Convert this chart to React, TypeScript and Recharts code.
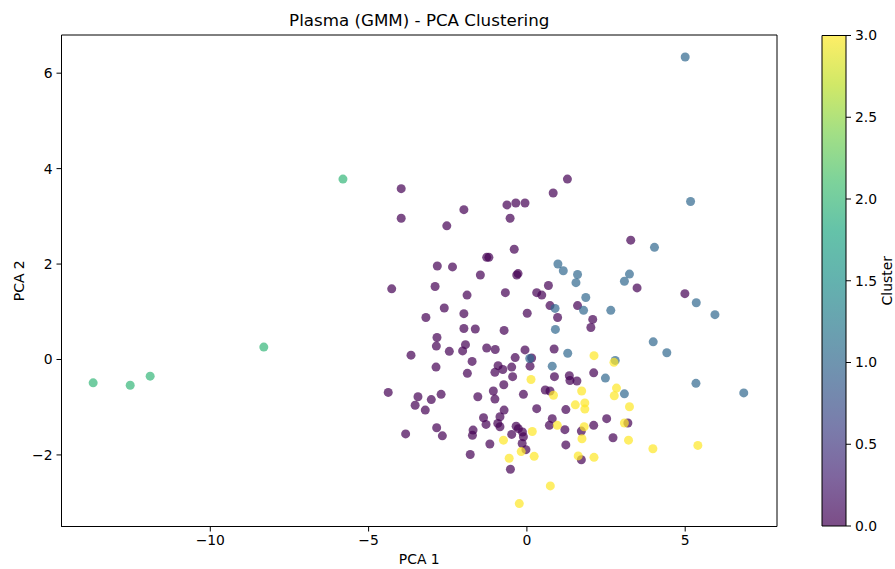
import React from 'react';
import {
  ScatterChart,
  Scatter,
  XAxis,
  YAxis,
  ReferenceArea,
  BarChart,
  Bar,
} from 'recharts';

// ---------------- data ----------------
const xTicks = [-10, -5, 0, 5];
const yTicks = [-2, 0, 2, 4, 6];
const colorbarTicks = [0, 0.5, 1.0, 1.5, 2.0, 2.5, 3.0];
const xDomain = [-14.7, 7.9];
const yDomain = [-3.5, 6.8];
const clusterNames = ['0', '1', '2', '3'];

const cluster0: [number, number][] = [
  [-3.97, 3.58], [-3.97, 2.96], [-1.99, 3.14], [-2.53, 2.8], [-0.63, 3.24], [-0.35, 3.28],
  [-0.06, 3.28], [0.83, 3.49], [-0.53, 2.96], [-0.4, 2.31], [-1.27, 2.14], [-1.2, 2.14],
  [-2.83, 1.96], [-2.35, 1.94], [-1.47, 1.77], [-0.32, 1.77], [-0.28, 1.8], [-4.27, 1.48],
  [-2.9, 1.53], [-1.89, 1.35], [-0.68, 1.4], [0.31, 1.4], [0.47, 1.35], [0.68, 1.55],
  [0.73, 1.13], [-2.61, 1.08], [-3.19, 0.88], [-1.99, 0.96], [0.01, 0.97], [0.97, 0.88],
  [1.28, 3.78], [3.28, 2.5], [3.48, 1.5], [4.99, 1.38], [1.6, 1.13], [2.08, 0.84],
  [2.02, 0.67], [-0.72, 0.61], [-1.63, 0.64], [-1.99, 0.65], [-1.27, 0.24], [-1.0, 0.21],
  [-0.06, 0.2], [0.86, 0.22], [-0.37, 0.04], [0.15, 0.03], [-2.84, 0.46], [-2.86, 0.28],
  [-1.94, 0.31], [-2.03, 0.18], [-2.45, 0.17], [-3.66, 0.09], [-1.73, -0.04], [-2.87, -0.16],
  [-0.91, -0.13], [-0.76, -0.21], [-0.48, -0.16], [0.1, -0.14], [-1.88, -0.29], [-1.01, -0.27],
  [-0.45, -0.36], [0.87, -0.36], [-0.73, -0.53], [0.58, -0.64], [0.73, -0.66], [-4.38, -0.69],
  [-3.44, -0.78], [-2.71, -0.73], [-3.02, -0.84], [-3.53, -0.96], [-3.21, -1.06], [-1.55, -0.78],
  [-1.06, -0.66], [-1.01, -0.83], [-0.11, -0.73], [0.31, -1.03], [-0.72, -1.06], [-0.85, -1.2],
  [-1.37, -1.22], [-1.29, -1.36], [-0.92, -1.34], [-0.85, -1.41], [0.8, -1.24], [0.71, -1.38],
  [-2.85, -1.43], [-2.67, -1.6], [-3.83, -1.56], [-1.7, -1.48], [-1.72, -1.59], [-0.34, -1.4],
  [-0.27, -1.45], [-0.14, -1.52], [-0.11, -1.62], [-0.48, -1.57], [-1.17, -1.77], [-0.15, -1.76],
  [-0.03, -1.89], [-1.79, -1.99], [-0.52, -2.3], [1.34, -0.34], [1.36, -0.44], [1.58, -0.45],
  [2.11, -0.28], [1.23, -1.05], [2.52, -1.24], [3.19, -1.33], [2.11, -1.38], [1.2, -1.47],
  [1.72, -1.5], [2.72, -1.64], [1.23, -1.79], [1.72, -2.1],
];

const cluster1: [number, number][] = [
  [5.0, 6.34], [5.17, 3.31], [4.03, 2.35], [0.98, 2.0], [1.15, 1.86], [1.6, 1.78],
  [1.55, 1.61], [3.24, 1.79], [3.08, 1.64], [5.35, 1.19], [5.94, 0.94], [1.86, 1.3],
  [1.79, 1.03], [2.65, 1.03], [0.89, 1.07], [0.9, 0.63], [1.29, 0.13], [0.09, 0.02],
  [0.8, -0.14], [3.99, 0.37], [4.42, 0.14], [2.79, -0.02], [2.48, -0.39], [5.34, -0.5],
  [6.85, -0.7], [3.08, -0.72],
];

const cluster2: [number, number][] = [
  [-5.81, 3.78], [-13.7, -0.49], [-12.53, -0.54], [-11.9, -0.35], [-8.31, 0.26],
];

const cluster3: [number, number][] = [
  [2.12, 0.08], [2.75, -0.06], [0.13, -0.42], [0.84, -0.75], [0.96, -1.38], [0.17, -1.51],
  [-0.74, -1.69], [-0.18, -1.93], [0.23, -2.03], [-0.56, -2.07], [0.74, -2.65], [-0.24, -3.02],
  [1.73, -0.66], [2.83, -0.6], [2.76, -0.76], [1.53, -0.95], [1.83, -0.91], [1.83, -1.04],
  [3.24, -0.99], [3.08, -1.33], [1.81, -1.41], [1.74, -1.66], [3.21, -1.69], [3.98, -1.87],
  [5.4, -1.8], [1.62, -2.02], [2.12, -2.05],
];

// ---------------- style ----------------
const FONT = '"DejaVu Sans", sans-serif';
const clusterColors = ['#440154', '#31688e', '#35b779', '#fde725'];
const viridisStops = [
  '#440154', '#482475', '#414487', '#355f8d', '#2a788e', '#21918c',
  '#22a884', '#44bf70', '#7ad151', '#bddf26', '#fde725',
];

const toPoints = (arr: [number, number][]) => arr.map(([x, y]) => ({ x, y }));
const clusters = [cluster0, cluster1, cluster2, cluster3];

const fmtMinus = (v: number) => (v < 0 ? '\u2212' + Math.abs(v) : String(v));

const makeDot = (color: string) => (props: any) => (
  <circle cx={props.cx} cy={props.cy} r={4.5} fill={color} fillOpacity={0.7} />
);

const XLabel = (props: any) => {
  const vb = props.viewBox;
  return (
    <text x={vb.x + vb.width / 2} y={vb.y + 37.5} textAnchor="middle" fontSize={13.9} fill="#000" fontFamily={FONT}>
      PCA 1
    </text>
  );
};

const YLabel = (props: any) => {
  const vb = props.viewBox;
  const cy = vb.y + vb.height / 2;
  return (
    <text x={24} y={cy} textAnchor="middle" fontSize={13.9} fill="#000" fontFamily={FONT} transform={`rotate(-90, 24, ${cy})`}>
      PCA 2
    </text>
  );
};

const CbLabel = (props: any) => {
  const vb = props.viewBox;
  const cy = vb.y + vb.height / 2;
  const x = 92;
  return (
    <text x={x} y={cy} textAnchor="middle" fontSize={13.9} fill="#000" fontFamily={FONT} transform={`rotate(-90, ${x}, ${cy})`}>
      Cluster
    </text>
  );
};

const tickStyle = { fontSize: 13.9, fill: '#000', fontFamily: FONT };

export default function App() {
  const cbData = [{ name: 'cb', v: colorbarTicks[colorbarTicks.length - 1] }];
  return (
    <div style={{ position: 'absolute', left: 0, top: 0, width: 895, height: 569, background: '#fff', fontFamily: FONT }}>
      <div style={{ position: 'absolute', left: 0, top: 0 }}>
        <ScatterChart width={895} height={569} margin={{ top: 35, right: 118, bottom: 0, left: 0 }}>
          <XAxis
            type="number"
            dataKey="x"
            domain={xDomain}
            ticks={xTicks}
            allowDataOverflow
            tickFormatter={fmtMinus}
            height={42.5}
            tickSize={5}
            tickMargin={4}
            tick={tickStyle}
            stroke="#000"
            axisLine={{ stroke: '#000', strokeWidth: 1 }}
            tickLine={{ stroke: '#000', strokeWidth: 1 }}
            label={<XLabel />}
          />
          <YAxis
            type="number"
            dataKey="y"
            domain={yDomain}
            ticks={yTicks}
            allowDataOverflow
            tickFormatter={fmtMinus}
            width={61.5}
            tickSize={5}
            tickMargin={4}
            tick={tickStyle}
            stroke="#000"
            axisLine={{ stroke: '#000', strokeWidth: 1 }}
            tickLine={{ stroke: '#000', strokeWidth: 1 }}
            label={<YLabel />}
          />
          <ReferenceArea
            x1={xDomain[0]}
            x2={xDomain[1]}
            y1={yDomain[0]}
            y2={yDomain[1]}
            fill="none"
            fillOpacity={0}
            stroke="#000"
            strokeWidth={1}
            ifOverflow="visible"
          />
          {clusters.map((c, i) => (
            <Scatter
              key={clusterNames[i]}
              name={clusterNames[i]}
              data={toPoints(c)}
              fill={clusterColors[i]}
              shape={makeDot(clusterColors[i])}
              isAnimationActive={false}
            />
          ))}
        </ScatterChart>
      </div>
      <div style={{ position: 'absolute', left: 800, top: 0 }}>
        <BarChart
          width={95}
          height={569}
          data={cbData}
          margin={{ top: 35.5, right: 0, bottom: 43, left: 22 }}
          barCategoryGap={0}
        >
          <defs>
            <linearGradient id="viridisGrad" x1="0" y1="1" x2="0" y2="0">
              {viridisStops.map((c, i) => (
                <stop key={i} offset={`${(i / (viridisStops.length - 1)) * 100}%`} stopColor={c} stopOpacity={0.7} />
              ))}
            </linearGradient>
          </defs>
          <XAxis dataKey="name" hide />
          <YAxis
            orientation="right"
            type="number"
            domain={[0, 3]}
            ticks={colorbarTicks}
            tickFormatter={(v: number) => v.toFixed(1)}
            width={49}
            tickSize={5}
            tickMargin={4}
            tick={tickStyle}
            axisLine={false}
            tickLine={{ stroke: '#000', strokeWidth: 1 }}
            label={<CbLabel />}
          />
          <Bar dataKey="v" fill="url(#viridisGrad)" stroke="#000" strokeWidth={1} isAnimationActive={false} />
        </BarChart>
      </div>
      <svg width={895} height={40} style={{ position: 'absolute', left: 0, top: 0, pointerEvents: 'none' }}>
        <text x={419.25} y={26} textAnchor="middle" fontSize={16.7} fill="#000" fontFamily={FONT}>
          Plasma (GMM) - PCA Clustering
        </text>
      </svg>
    </div>
  );
}
